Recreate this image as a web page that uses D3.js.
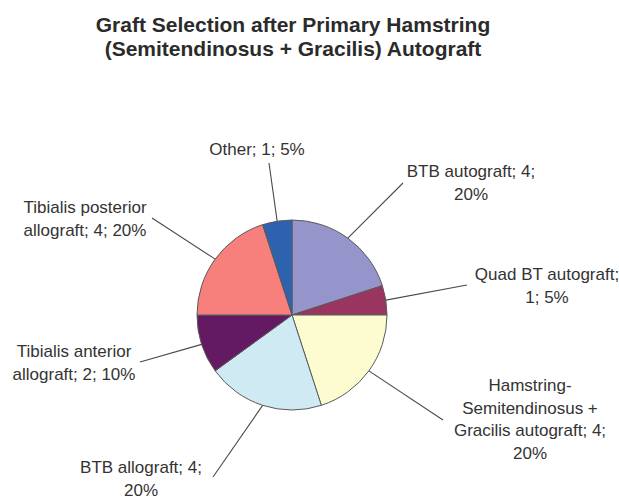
<!DOCTYPE html>
<html>
<head>
<meta charset="utf-8">
<script src="https://cdn.jsdelivr.net/npm/d3@7"></script>
<style>
  body { margin: 0; background: #fff; }
  svg { display: block; font-family: "Liberation Sans", Arial, sans-serif; }
</style>
</head>
<body>
<div id="chart"></div>
<script>
// chart data, clockwise from 12 o'clock
var categories = ["BTB autograft", "Quad BT autograft", "Hamstring-Semitendinosus + Gracilis autograft",
                  "BTB allograft", "Tibialis anterior allograft", "Tibialis posterior allograft", "Other"];
var counts = [4, 1, 4, 4, 2, 4, 1];
var colors = ["#9595cb", "#99355f", "#fdfbd0", "#d0eaf3", "#641a63", "#f7807d", "#2d63ae"];
var titleLines = ["Graft Selection after Primary Hamstring", "(Semitendinosus + Gracilis) Autograft"];

// label layout (offsets from the pie centre)
var labelPos = [[179, -138], [255, -35], [238, 76], [-151, 158], [-218, 42], [-207, -102], [-35, -160]];
var leaderEnd = [[111, -132], [175, -30], [151, 105], [-79, 162], [-152, 47], [-140, -97], [-23, -152]];
var wrapWidth = [140, 145, 165, 135, 130, 132, 200];

var width = 619, height = 499,
    cx = 292, cy = 315, radius = 95,
    fontSize = 17, lineHeight = 22.5;

var total = d3.sum(counts);
var fmtPct = d3.format(".0%");

var svg = d3.select("#chart").append("svg")
    .attr("width", width).attr("height", height);

svg.append("text")
    .attr("text-anchor", "middle")
    .attr("font-weight", "bold")
    .attr("font-size", 21)
    .attr("fill", "#2b2b2b")
    .selectAll("tspan").data(titleLines).enter().append("tspan")
    .attr("x", 293)
    .attr("y", function(d, i) { return 32 + i * 24; })
    .text(function(d) { return d; });

var pie = d3.pie().sort(null).value(function(d) { return d; });
var arc = d3.arc().innerRadius(0).outerRadius(radius);
var arcs = pie(counts);

var g = svg.append("g").attr("transform", "translate(" + cx + "," + cy + ")");

g.selectAll("path.slice").data(arcs).enter().append("path")
    .attr("class", "slice")
    .attr("d", arc)
    .attr("fill", function(d, i) { return colors[i]; })
    .attr("stroke", "#5a5a5a")
    .attr("stroke-width", 1);

// leader lines from the slice edge at its mid angle
g.selectAll("path.leader").data(arcs).enter().append("path")
    .attr("class", "leader")
    .attr("fill", "none")
    .attr("stroke", "#4a4a4a")
    .attr("stroke-width", 1.1)
    .attr("d", function(d, i) {
        var a = (d.startAngle + d.endAngle) / 2;
        var p0 = [Math.sin(a) * radius, -Math.cos(a) * radius];
        return d3.line()([p0, leaderEnd[i]]);
    });

// wrap label text greedily, breaking at spaces and after hyphens
var wrapText = function(str, maxW, textEl) {
    var words = [];
    str.replace(/([^\s-]+-?)(\s*)/g, function(m, w, sp) { words.push({ w: w, sp: sp.length > 0 }); });
    var lines = [], cur = "";
    var measure = function(s) { textEl.text(s); return textEl.node().getComputedTextLength(); };
    for (var i = 0; i < words.length; i++) {
        var prevSp = i > 0 && words[i - 1].sp;
        var test = cur === "" ? words[i].w : cur + (prevSp ? " " : "") + words[i].w;
        if (cur !== "" && measure(test) > maxW) {
            lines.push(cur);
            cur = words[i].w;
        } else {
            cur = test;
        }
    }
    if (cur !== "") lines.push(cur);
    textEl.text(null);
    return lines;
};

var labels = g.selectAll("text.label").data(arcs).enter().append("text")
    .attr("class", "label")
    .attr("text-anchor", "middle")
    .attr("font-size", fontSize)
    .attr("fill", "#333");

labels.each(function(d, i) {
    var el = d3.select(this);
    var str = categories[i] + "; " + counts[i] + "; " + fmtPct(counts[i] / total);
    var lines = wrapText(str, wrapWidth[i], el);
    el.selectAll("tspan").data(lines).enter().append("tspan")
        .attr("x", labelPos[i][0])
        .attr("y", function(l, j) { return labelPos[i][1] + j * lineHeight; })
        .text(function(l) { return l; });
});
</script>
</body>
</html>
